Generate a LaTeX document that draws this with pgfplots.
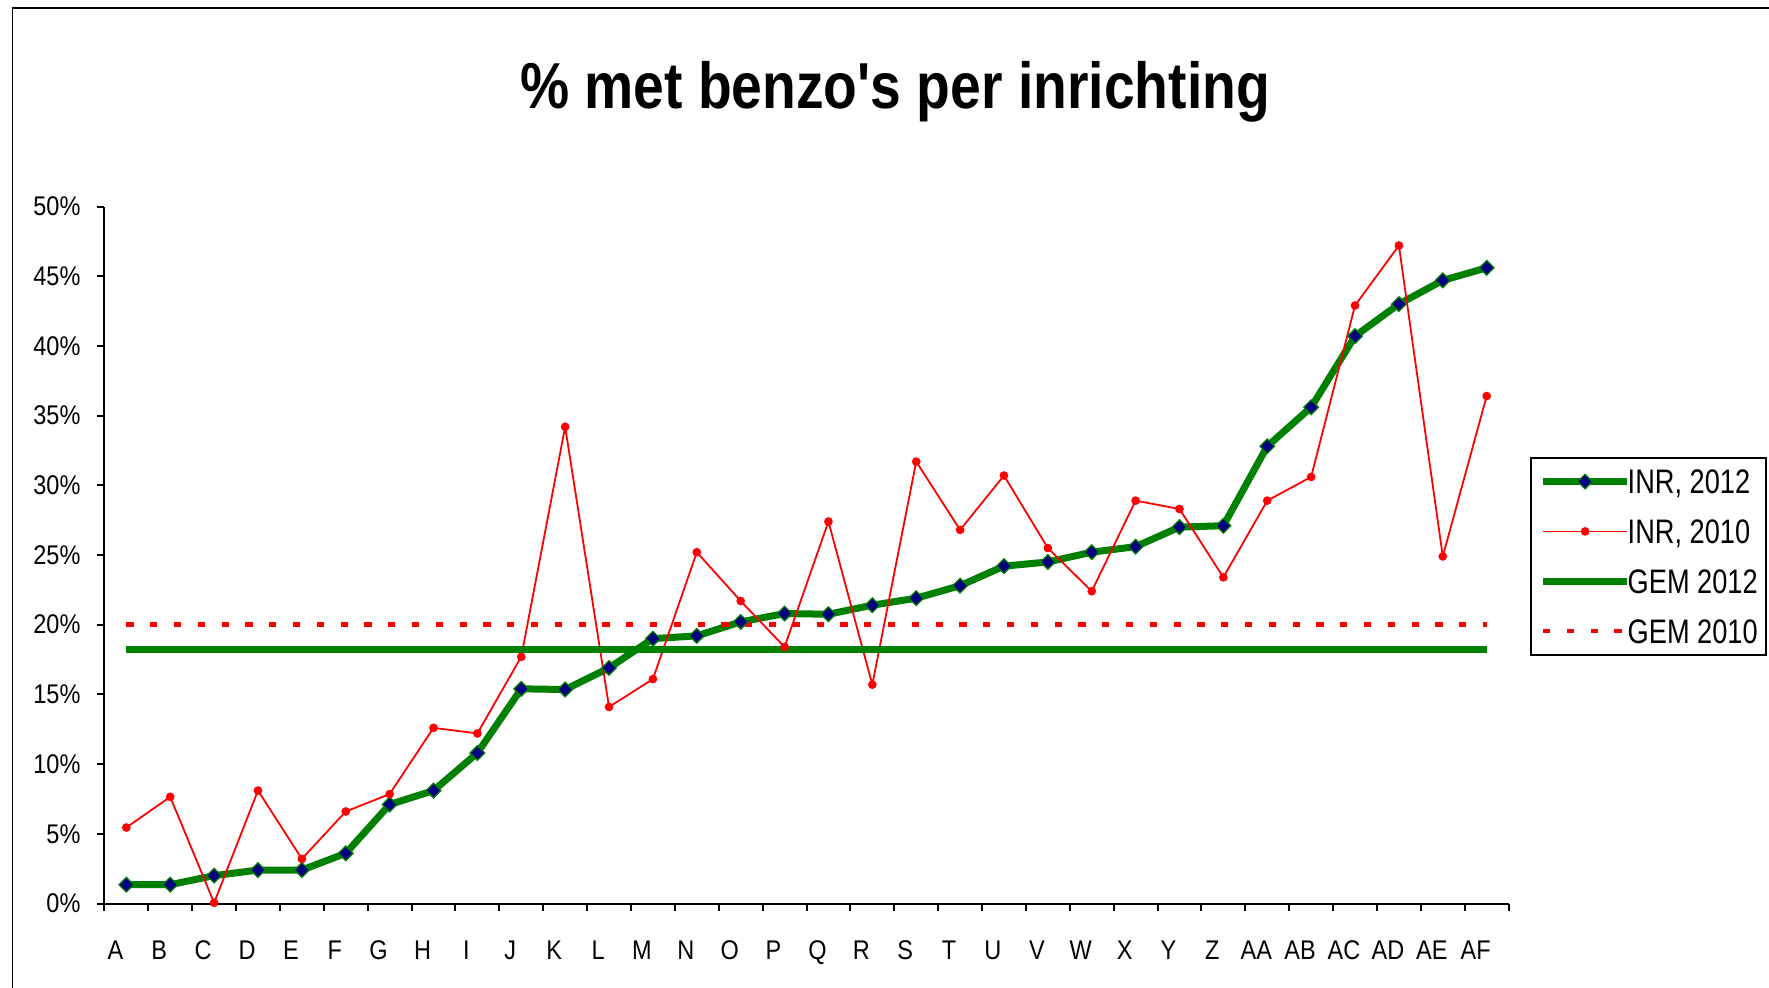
\documentclass[border=0pt]{standalone}
\usepackage{fontspec}
\setmainfont{Liberation Sans}
\newfontfamily\tickfont[FakeStretch=0.87]{Liberation Sans}
\newfontfamily\legfont[FakeStretch=0.80]{Liberation Sans}
\newfontfamily\titlefont[FakeStretch=0.85,Ligatures=TeXOff]{Liberation Sans}
\usepackage{pgfplots}
\usepackage{pgfplotstable}
\pgfplotsset{compat=1.18}
\definecolor{xlgreen}{RGB}{0,128,0}
\definecolor{xlnavy}{RGB}{0,0,128}
\definecolor{xlred}{RGB}{255,0,0}

\pgfplotstableread{
x inr12 inr10
0 1.35 5.45
1 1.35 7.65
2 2.0 0.05
3 2.4 8.1
4 2.4 3.2
5 3.6 6.6
6 7.1 7.85
7 8.1 12.6
8 10.8 12.2
9 15.4 17.7
10 15.35 34.2
11 16.9 14.1
12 19.0 16.1
13 19.2 25.2
14 20.2 21.7
15 20.8 18.4
16 20.75 27.4
17 21.4 15.7
18 21.9 31.7
19 22.8 26.8
20 24.2 30.7
21 24.5 25.5
22 25.2 22.4
23 25.6 28.9
24 27.0 28.3
25 27.1 23.4
26 32.8 28.9
27 35.6 30.6
28 40.7 42.9
29 43.0 47.2
30 44.7 24.9
31 45.6 36.4
}\datatable

\begin{document}
\begin{tikzpicture}
\path[use as bounding box] (0,0) rectangle (884.5pt,493.5pt);
\draw[line width=0.75pt] (6.3pt,-2pt) -- (6.3pt,489.5pt) -- (890pt,489.5pt);
\begin{axis}[
  at={(52.2pt,41.75pt)}, anchor=south west,
  width=702.1pt, height=348.5pt, scale only axis,
  xmin=-0.5, xmax=31.5, ymin=0, ymax=50,
  axis lines*=left,
  axis line style={line width=1pt, black},
  tick style={line width=1pt, black},
  tick align=outside,
  major tick length=3.8pt,
  ytick={0,5,...,50},
  yticklabels={0\%,5\%,10\%,15\%,20\%,25\%,30\%,35\%,40\%,45\%,50\%},
  yticklabel style={font=\tickfont\fontsize{13.5pt}{16pt}\selectfont, inner sep=0pt, anchor=east, xshift=-8pt},
  xtick={-0.5,0.5,...,31.5},
  xticklabels={},
  extra x ticks={0,1,...,31},
  extra x tick labels={A,B,C,D,E,F,G,H,I,J,K,L,M,N,O,P,Q,R,S,T,U,V,W,X,Y,Z,AA,AB,AC,AD,AE,AF},
  extra x tick style={major tick length=0pt, xticklabel style={font=\tickfont\fontsize{13.5pt}{16pt}\selectfont, anchor=base, yshift=-27.8pt, xshift=-5.5pt, inner sep=0pt}},
  clip=false,
  legend style={at={(axis description cs:1.0153,0.6406)}, anchor=north west,
    draw=black, line width=1pt, inner xsep=4.2pt, inner ysep=5.8pt,
    font=\legfont\fontsize{17pt}{20pt}\selectfont,
    row sep=12.9pt, column sep=-1.5pt,
    nodes={inner sep=0pt, text height=12pt, text depth=0pt}},
  legend cell align=left,
  legend image code/.code={\path[draw=none,fill=none,solid] (0pt,-6pt) rectangle (42pt,6pt);
    \draw[mark repeat=2,mark phase=2,#1] plot coordinates {(0pt,0pt)(21pt,0pt)(42pt,0pt)};},
]
\addplot[color=xlgreen, line width=3.5pt, mark=square*, mark size=2.6pt,
  mark options={rotate=45, fill=xlnavy, draw=xlgreen, line width=0.6pt, solid}]
  table[x=x,y=inr12]{\datatable};
\addlegendentry{INR, 2012}
\addplot[color=xlred, line width=0.9pt, mark=*, mark size=1.7pt,
  mark options={fill=xlred, draw=xlred, solid}]
  table[x=x,y=inr10]{\datatable};
\addlegendentry{INR, 2010}
\addplot[color=xlgreen, line width=3.6pt] coordinates {(0,18.2) (31,18.2)};
\addlegendentry{GEM 2012}
\addplot[color=xlred, line width=2.7pt, dash pattern=on 3.6pt off 8.3pt,
  legend image post style={line width=1.6pt}] coordinates {(0,20) (31,20)};
\addlegendentry{GEM 2010}
\end{axis}
\node[anchor=base, font=\titlefont\bfseries\fontsize{32.5pt}{38pt}\selectfont] at (447.5pt,439pt) {\% met benzo's per inrichting};
\end{tikzpicture}
\end{document}
